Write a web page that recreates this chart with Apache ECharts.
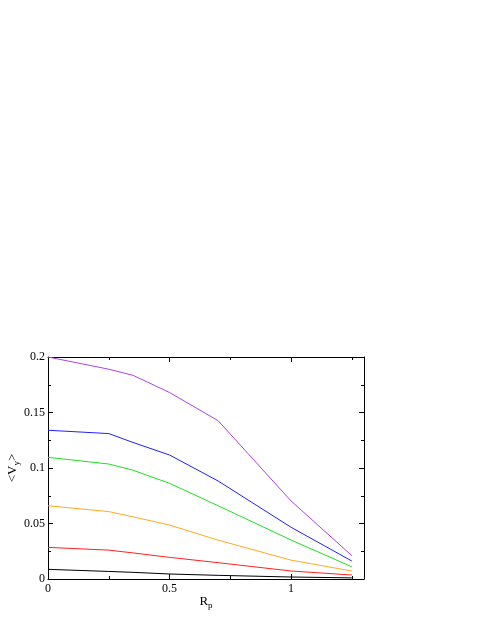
<!DOCTYPE html>
<html lang="en">
<head>
    <meta charset="UTF-8">
    <title>Vy vs Rp</title>
    <script src="https://cdn.jsdelivr.net/npm/echarts@6/dist/echarts.min.js"></script>
</head>
<body style="margin:0;background:#fff;">
    <div id="main" style="width:485px;height:627px;"></div>
<script>
    // R_p positions of the samples
    var rp = [0, 0.25, 0.35, 0.5, 0.7, 1, 1.25];

    // <V_y> for each curve
    var purple = [0.200, 0.189, 0.1835, 0.168, 0.1426, 0.0703, 0.021];
    var blue   = [0.134, 0.131, 0.123, 0.1117, 0.0883, 0.0466, 0.0162];
    var green  = [0.1096, 0.1036, 0.098, 0.0862, 0.066, 0.0351, 0.011];
    var orange = [0.066, 0.0607, 0.056, 0.0486, 0.035, 0.017, 0.0072];
    var red    = [0.0285, 0.026, 0.0235, 0.0195, 0.0147, 0.0072, 0.0036];
    var black  = [0.0087, 0.0068, 0.006, 0.0045, 0.0033, 0.0018, 0.001];

    var curves = [
        { data: black, color: '#000000' },
        { data: red, color: '#ff2020' },
        { data: orange, color: '#ffaa20' },
        { data: green, color: '#20e020' },
        { data: blue, color: '#2020ff' },
        { data: purple, color: '#b040e8' }
    ];

    var font = 'Liberation Serif';
    var myChart = echarts.init(document.getElementById('main'));

    function axisBase(show) {
        return {
            axisLine: { show: true, onZero: false, lineStyle: { color: '#000', width: 1 } },
            axisTick: { show: true, inside: true, length: 5, lineStyle: { color: '#000' } },
            minorTick: { show: true, splitNumber: 2, length: 3, lineStyle: { color: '#000' } },
            splitLine: { show: false },
            axisLabel: { show: show, color: '#000', fontFamily: font, fontSize: 12 }
        };
    }

    var xMain = Object.assign(axisBase(true), {
        type: 'value', min: 0, max: 1.3, interval: 0.5, position: 'bottom',
        name: '{b|R}{s|p}', nameLocation: 'middle', nameGap: 14, nameMoveOverlap: false,
        nameTextStyle: {
            rich: {
                b: { fontFamily: font, fontSize: 13, color: '#000' },
                s: { fontFamily: font, fontSize: 9, color: '#000', verticalAlign: 'bottom', padding: [8, 0, 0, 0] }
            }
        }
    });
    xMain.axisLabel.margin = 4;
    xMain.axisLabel.formatter = function (v) { return v > 1.25 ? '' : String(v); };

    var xTop = Object.assign(axisBase(false), {
        type: 'value', min: 0, max: 1.3, interval: 0.5, position: 'top'
    });

    var yMain = Object.assign(axisBase(true), {
        type: 'value', min: 0, max: 0.2, interval: 0.05, position: 'left',
        name: '{b|<V}{s|y}{b|>}', nameLocation: 'middle', nameGap: 27, nameRotate: 90, nameMoveOverlap: false,
        nameTextStyle: {
            rich: {
                b: { fontFamily: font, fontSize: 13, color: '#000' },
                s: { fontFamily: font, fontSize: 9, color: '#000', padding: [8, 0, 0, 0] }
            }
        }
    });
    yMain.axisLabel.margin = 3;

    var yRight = Object.assign(axisBase(false), {
        type: 'value', min: 0, max: 0.2, interval: 0.05, position: 'right'
    });

    var option = {
        animation: false,
        backgroundColor: '#fff',
        grid: { left: 48, top: 357, right: 121, bottom: 48, containLabel: false, outerBoundsMode: 'none' },
        xAxis: [xMain, xTop],
        yAxis: [yMain, yRight],
        series: curves.map(function (c) {
            return {
                type: 'line',
                xAxisIndex: 0,
                yAxisIndex: 0,
                showSymbol: false,
                lineStyle: { color: c.color, width: 1 },
                data: rp.map(function (x, i) { return [x, c.data[i]]; })
            };
        })
    };

    option && myChart.setOption(option);
</script>
</body>
</html>
